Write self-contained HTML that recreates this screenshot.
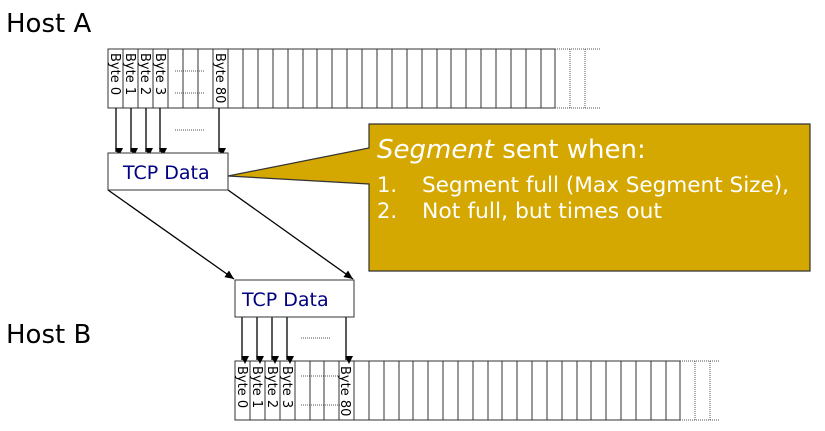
<!DOCTYPE html>
<html><head><meta charset="utf-8"><style>
html,body{margin:0;padding:0;background:#fff;}
svg{display:block;font-family:"DejaVu Sans","Liberation Sans",sans-serif;}
</style></head><body>
<svg width="825" height="431" viewBox="0 0 825 431" xmlns="http://www.w3.org/2000/svg">
<defs><marker id="ah" markerWidth="8" markerHeight="8" refX="4" refY="7" orient="auto" markerUnits="userSpaceOnUse"><path d="M0,0 L8,0 L4,8 z" fill="#000" transform="rotate(-90 4 4)"/></marker>
<marker id="a2" markerWidth="10" markerHeight="10" refX="9" refY="4" orient="auto" markerUnits="userSpaceOnUse"><path d="M0,0 L9,4 L0,8 z" fill="#000"/></marker></defs>
<text x="6" y="32" font-size="26" font-family="DejaVu Sans,sans-serif">Host A</text>
<text x="6" y="343" font-size="26" font-family="DejaVu Sans,sans-serif">Host B</text>
<rect x="108" y="49" width="447" height="59" stroke="#333" fill="none"/>
<g stroke="#555" stroke-dasharray="1,1" fill="none">
<line x1="555" y1="49" x2="600" y2="49"/><line x1="555" y1="108" x2="600" y2="108"/>
<line x1="570" y1="49" x2="570" y2="108"/><line x1="585" y1="49" x2="585" y2="108"/>
<line x1="175" y1="71" x2="205" y2="71"/><line x1="175" y1="93" x2="205" y2="93"/><line x1="175" y1="130" x2="205" y2="130"/>
<line x1="680" y1="361" x2="720" y2="361"/><line x1="680" y1="420" x2="720" y2="420"/>
<line x1="695" y1="361" x2="695" y2="420"/><line x1="710" y1="361" x2="710" y2="420"/>
<line x1="301" y1="376" x2="340" y2="376"/><line x1="301" y1="405" x2="340" y2="405"/><line x1="301" y1="338" x2="330" y2="338"/>
</g>
<rect x="235" y="361" width="445" height="59" stroke="#333" fill="none"/>
<g font-size="13" fill="#000" font-family="DejaVu Sans,sans-serif">
<text transform="translate(111,53) rotate(90)">Byte 0</text>
<text transform="translate(126,53) rotate(90)">Byte 1</text>
<text transform="translate(141,53) rotate(90)">Byte 2</text>
<text transform="translate(156,53) rotate(90)">Byte 3</text>
<text transform="translate(216,53) rotate(90)">Byte 80</text>
<text transform="translate(238,366) rotate(90)">Byte 0</text>
<text transform="translate(253,366) rotate(90)">Byte 1</text>
<text transform="translate(268,366) rotate(90)">Byte 2</text>
<text transform="translate(283,366) rotate(90)">Byte 3</text>
<text transform="translate(341,366) rotate(90)">Byte 80</text>
</g>
<g stroke="#000" stroke-width="1.3">
<line x1="116" y1="108" x2="116" y2="152" marker-end="url(#ah)"/>
<line x1="131" y1="108" x2="131" y2="152" marker-end="url(#ah)"/>
<line x1="146" y1="108" x2="146" y2="152" marker-end="url(#ah)"/>
<line x1="160" y1="108" x2="160" y2="152" marker-end="url(#ah)"/>
<line x1="219" y1="108" x2="219" y2="152" marker-end="url(#ah)"/>
<line x1="242" y1="317" x2="242" y2="360" marker-end="url(#ah)"/>
<line x1="257" y1="317" x2="257" y2="360" marker-end="url(#ah)"/>
<line x1="272" y1="317" x2="272" y2="360" marker-end="url(#ah)"/>
<line x1="287" y1="317" x2="287" y2="360" marker-end="url(#ah)"/>
<line x1="346" y1="317" x2="346" y2="360" marker-end="url(#ah)"/>
<line x1="108" y1="190" x2="234" y2="279" marker-end="url(#a2)"/>
<line x1="228" y1="190" x2="353" y2="279" marker-end="url(#a2)"/>
</g>
<rect x="108" y="153" width="120" height="37" fill="#fff" stroke="#333"/>
<text x="123" y="179" font-size="19" fill="#000080">TCP Data</text>
<rect x="235" y="280" width="119" height="37" fill="#fff" stroke="#333"/>
<text x="242" y="306" font-size="19" fill="#000080">TCP Data</text>
<path d="M369,124 L810,124 L810,271 L369,271 L369,184 L228,176 L369,148 Z" fill="#d4a800" stroke="#333" stroke-width="1.2"/>
<g fill="#fff" font-family="DejaVu Sans,sans-serif">
<text x="377" y="158" font-size="26"><tspan font-style="italic">Segment</tspan> sent when:</text>
<text x="377" y="192" font-size="21">1.</text><text x="422" y="192" font-size="21" textLength="367" lengthAdjust="spacingAndGlyphs">Segment full (Max Segment Size),</text>
<text x="377" y="218" font-size="21">2.</text><text x="422" y="218" font-size="21" textLength="240" lengthAdjust="spacingAndGlyphs">Not full, but times out</text>
</g>
<g stroke="#333">
<path d="M123,49V108M138,49V108M153,49V108M168,49V108M183,49V108M198,49V108M213,49V108M228,49V108M243,49V108M258,49V108M273,49V108M288,49V108M303,49V108M317,49V108M332,49V108M347,49V108M362,49V108M377,49V108M392,49V108M407,49V108M422,49V108M437,49V108M451,49V108M466,49V108M481,49V108M496,49V108M511,49V108M526,49V108M541,49V108"/>
<path d="M250,361V420M265,361V420M280,361V420M295,361V420M310,361V420M324,361V420M339,361V420M354,361V420M369,361V420M384,361V420M399,361V420M413,361V420M428,361V420M443,361V420M458,361V420M473,361V420M488,361V420M502,361V420M517,361V420M532,361V420M547,361V420M562,361V420M577,361V420M591,361V420M606,361V420M621,361V420M636,361V420M651,361V420M666,361V420"/>
</g>
</svg>
</body></html>
